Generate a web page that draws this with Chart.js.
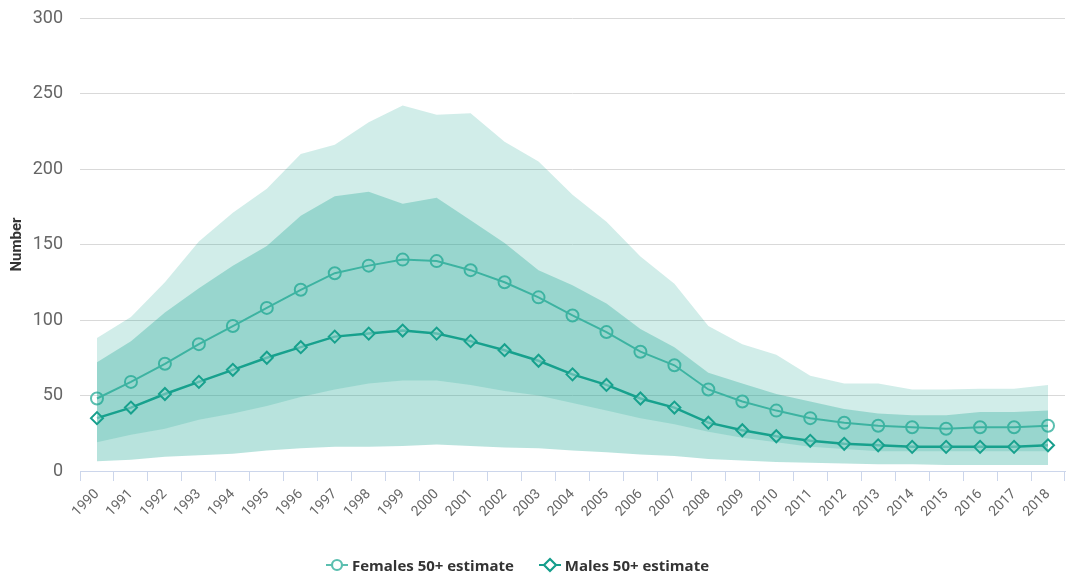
<!DOCTYPE html>
<html lang="en">
<head>
  <meta charset="UTF-8" />
  <title>Females and males 50+ estimates</title>
  <script src="https://cdn.jsdelivr.net/npm/chart.js"></script>
  <style>
    html, body { margin: 0; padding: 0; background: #fff; }
    #wrap { width: 1073px; height: 576px; position: relative; }
    #legend {
      position: absolute; left: 0; top: 555px; width: 1035px;
      display: flex; justify-content: center; gap: 25px;
      font-family: 'Open Sans', sans-serif; font-weight: bold; font-size: 15px; color: #333;
    }
    #legend span { display: inline-flex; align-items: center; gap: 4px; }
  </style>
</head>
<body>
  <div id="wrap">
    <canvas id="chart"></canvas>
    <div id="legend"></div>
  </div>

  <script>
    const years = ['1990','1991','1992','1993','1994','1995','1996','1997','1998','1999',
      '2000','2001','2002','2003','2004','2005','2006','2007','2008','2009',
      '2010','2011','2012','2013','2014','2015','2016','2017','2018'];

    const femaleEstimate = [48, 59, 71, 84, 96, 108, 120, 131, 136, 140,
      139, 133, 125, 115, 103, 92, 79, 70, 54, 46,
      40, 35, 32, 30, 29, 28, 29, 29, 30];
    const femaleUpper = [88, 102, 125, 152, 171, 187, 210, 216, 231, 242,
      236, 237, 218, 205, 183, 165, 142, 124, 96, 84,
      77, 63, 58, 58, 54, 54, 54.5, 54.5, 57];
    const femaleLower = [19, 24, 28, 34, 38, 43, 49, 54, 58, 60,
      60, 57, 53, 50, 45, 40, 35, 31, 26, 22,
      19, 16, 14.5, 13, 13, 13, 13, 13, 13];

    const maleEstimate = [35, 42, 51, 59, 67, 75, 82, 89, 91, 93,
      91, 86, 80, 73, 64, 57, 48, 42, 32, 27,
      23, 20, 18, 17, 16, 16, 16, 16, 17];
    const maleUpper = [72, 86, 105, 121, 136, 149, 169, 182, 185, 177,
      181, 166, 151, 133, 123, 111, 94, 82, 65, 58,
      51, 46, 41, 38, 37, 37, 39, 39, 40];
    const maleLower = [6.5, 7.5, 9.5, 10.5, 11.5, 13.5, 15, 16, 16, 16.5,
      17.5, 16.5, 15.5, 15, 13.5, 12.5, 11, 10, 8, 7,
      6, 5.5, 5, 4.5, 4.5, 4, 4, 4, 4];

    const femaleColor = '#5bbfb0';
    const maleColor = '#169e8c';

    const band = (data, fill, color) => ({
      data, fill, backgroundColor: color, borderWidth: 0,
      pointRadius: 0, pointHoverRadius: 0, tension: 0
    });

    const chart = new Chart(document.getElementById('chart'), {
      type: 'line',
      data: {
        labels: years,
        datasets: [
          band(femaleUpper, '+1', 'rgba(25,165,145,0.2)'),
          band(femaleLower, false, 'rgba(0,0,0,0)'),
          band(maleUpper, '+1', 'rgba(25,165,145,0.31)'),
          band(maleLower, false, 'rgba(0,0,0,0)'),
          {
            label: 'Females 50+ estimate',
            data: femaleEstimate,
            borderColor: femaleColor,
            borderWidth: 2,
            pointStyle: 'circle',
            pointRadius: 6,
            pointBorderWidth: 2,
            pointBackgroundColor: 'rgba(255,255,255,0)',
            pointBorderColor: femaleColor,
            fill: false,
            tension: 0
          },
          {
            label: 'Males 50+ estimate',
            data: maleEstimate,
            borderColor: maleColor,
            borderWidth: 2.5,
            pointStyle: 'rectRot',
            pointRadius: 6,
            pointBorderWidth: 2,
            pointBackgroundColor: 'rgba(255,255,255,0.55)',
            pointBorderColor: maleColor,
            fill: false,
            tension: 0
          }
        ]
      },
      options: {
        responsive: true,
        maintainAspectRatio: false,
        animation: false,
        layout: { padding: { top: 18, right: 0, left: 0, bottom: 55 } },
        plugins: {
          tooltip: { enabled: false },
          legend: { display: false }
        },
        scales: {
          x: {
            offset: true,
            afterFit(scale) { scale.height = 50; },
            grid: {
              offset: true,
              drawOnChartArea: false,
              drawTicks: true,
              tickLength: 10,
              color: '#ccd6eb'
            },
            border: { color: '#ccd6eb' },
            ticks: {
              color: '#666',
              font: { family: 'Roboto', size: 14 },
              maxRotation: 45,
              minRotation: 45,
              autoSkip: false,
              padding: 5
            }
          },
          y: {
            min: 0,
            max: 300,
            afterFit(scale) {
              scale.width = 80;
              scale.paddingTop = 0;
              scale.paddingBottom = 0;
            },
            grid: { color: '#d9d9d9', drawTicks: false },
            border: { display: false },
            ticks: {
              stepSize: 50,
              color: '#666',
              padding: 17,
              font: { family: 'Roboto', size: 18 }
            },
            title: {
              display: true,
              text: 'Number',
              color: '#333',
              padding: { top: 8, bottom: 0 },
              font: { family: 'Roboto', size: 15, weight: 'bold' }
            }
          }
        }
      }
    });

    // html legend with line + marker icons, built from the datasets
    const icons = {
      circle: c => `<circle cx="11" cy="8" r="5" fill="#fff" stroke="${c}" stroke-width="2.2"/>`,
      rectRot: c => `<path d="M11 2 L17 8 L11 14 L5 8 Z" fill="#fff" stroke="${c}" stroke-width="2.2"/>`
    };
    document.getElementById('legend').innerHTML = chart.data.datasets
      .filter(ds => ds.label)
      .map(ds => `<span><svg width="22" height="16"><line x1="0" y1="8" x2="22" y2="8" stroke="${ds.borderColor}" stroke-width="2"/>${icons[ds.pointStyle](ds.borderColor)}</svg>${ds.label}</span>`)
      .join('');
  </script>
</body>
</html>
